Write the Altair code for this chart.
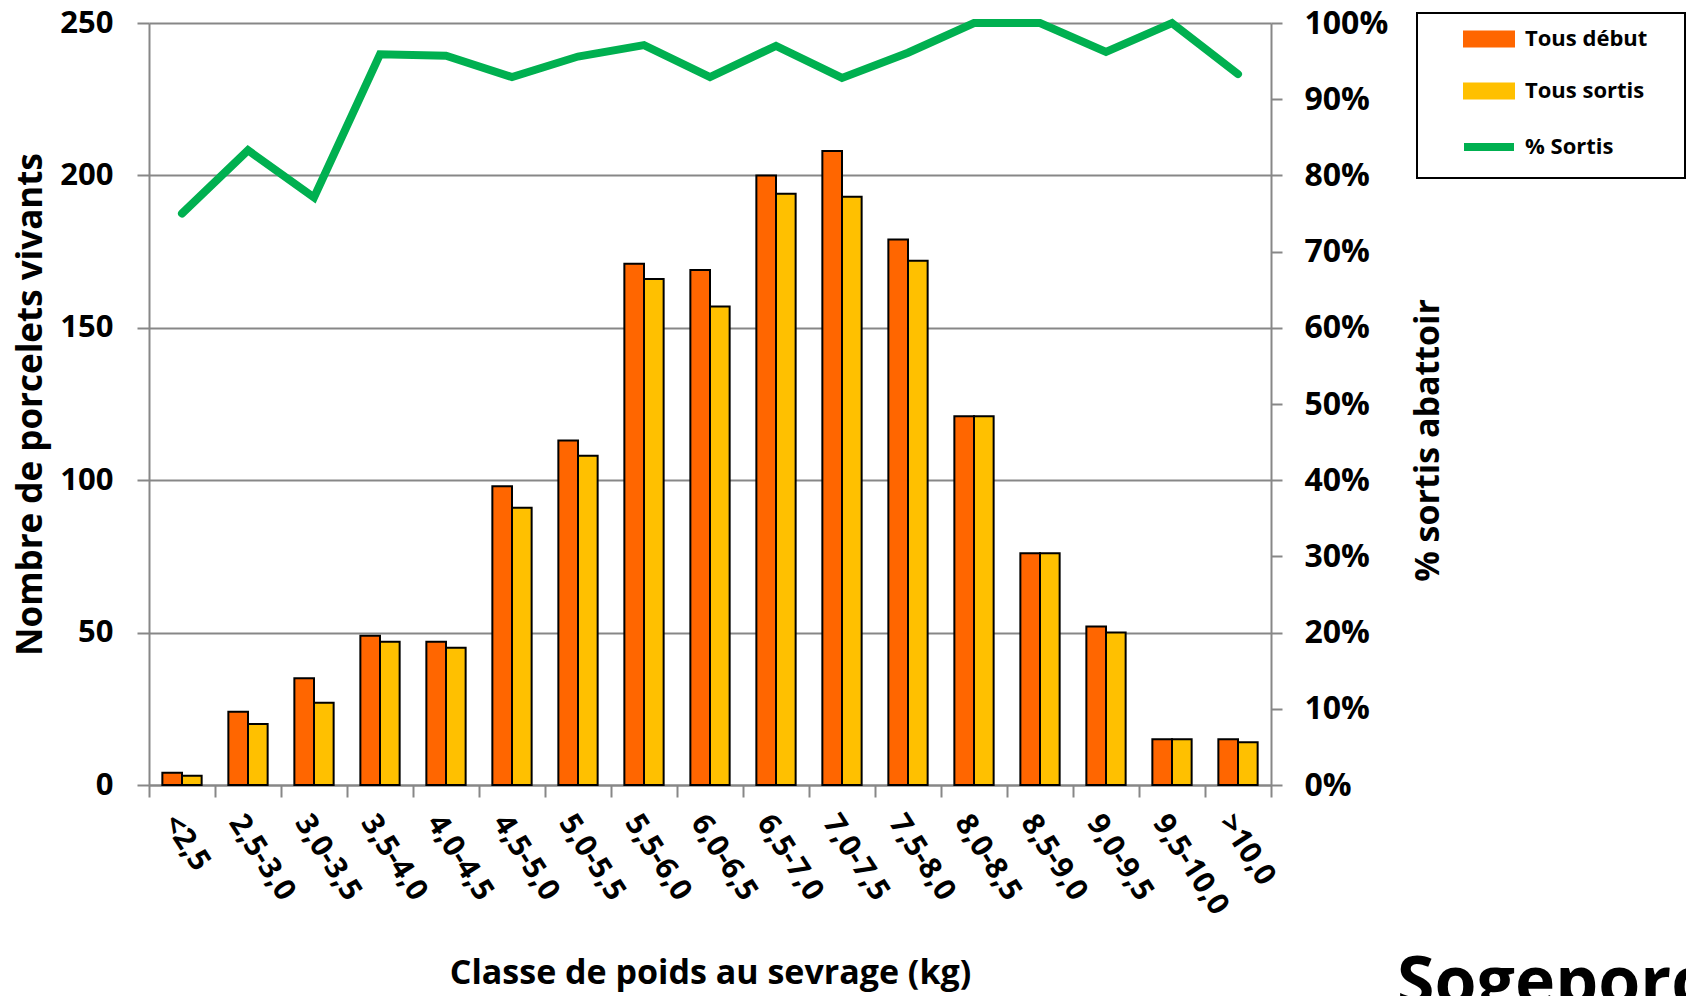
import altair as alt
import pandas as pd

categories = ["<2,5", "2,5-3,0", "3,0-3,5", "3,5-4,0", "4,0-4,5", "4,5-5,0", "5,0-5,5",
              "5,5-6,0", "6,0-6,5", "6,5-7,0", "7,0-7,5", "7,5-8,0", "8,0-8,5", "8,5-9,0",
              "9,0-9,5", "9,5-10,0", ">10,0"]
tous_debut = [4, 24, 35, 49, 47, 98, 113, 171, 169, 200, 208, 179, 121, 76, 52, 15, 15]
tous_sortis = [3, 20, 27, 47, 45, 91, 108, 166, 157, 194, 193, 172, 121, 76, 50, 15, 14]
pct_sortis = [75.0, 83.3, 77.1, 95.9, 95.7, 92.9, 95.6, 97.1, 92.9, 97.0, 92.8, 96.1,
              100.0, 100.0, 96.2, 100.0, 93.3]
series_names = ["Tous début", "Tous sortis", "% Sortis"]
series_colors = ["#FF6600", "#FFC000", "#00B050"]
left_ticks = [0, 50, 100, 150, 200, 250]
right_ticks = [0, 10, 20, 30, 40, 50, 60, 70, 80, 90, 100]

FONT = "Open Sans"
GRAY = "#878787"

bars_df = pd.DataFrame(
    [{"cat": c, "series": series_names[0], "n": v} for c, v in zip(categories, tous_debut)]
    + [{"cat": c, "series": series_names[1], "n": v} for c, v in zip(categories, tous_sortis)]
)
line_df = pd.DataFrame({"cat": categories, "pct": pct_sortis, "series": series_names[2]})
logo_df = pd.DataFrame({"name": ["Sogeporc"]})

W, H = 1122, 762

x_enc = alt.X(
    "cat:N", sort=categories,
    scale=alt.Scale(paddingInner=0, paddingOuter=0),
    axis=alt.Axis(
        title="Classe de poids au sevrage (kg)",
        titleFont=FONT, titleFontSize=34, titleFontWeight="bold", titleColor="black",
        titleX=561, titleY=198, titleAlign="center", titleBaseline="alphabetic",
        labelFont=FONT, labelFontSize=30, labelFontWeight="bold", labelColor="black",
        labelAngle=57, labelAlign="left", labelBaseline="top", labelPadding=12,
        tickBand="extent", tickSize=12, tickColor=GRAY, tickWidth=2,
        domainColor=GRAY, domainWidth=2, grid=False, labelOverlap=False,
    ),
)

is_line = "datum.value === '% Sortis'"
color_enc = alt.Color(
    "series:N",
    scale=alt.Scale(domain=series_names, range=series_colors),
    legend=alt.Legend(
        title="MM", titleOrient="right", titleOpacity=0, titleFontSize=12,
        titlePadding=0, titleFont=FONT,
        orient="none", legendX=1268, legendY=-10,
        fillColor="white", strokeColor="black",
        padding=15, rowPadding=28, symbolOffset=46, labelOffset=25,
        symbolSize=2500, labelLimit=400,
        symbolType=alt.ExprRef(expr=f"{is_line} ? 'M-1,0L1,0' : 'M-1,-0.3L1,-0.3L1,0.3L-1,0.3Z'"),
        symbolStrokeColor=alt.ExprRef(expr=f"{is_line} ? '#00B050' : '#000000'"),
        symbolStrokeWidth=alt.ExprRef(expr=f"{is_line} ? 8 : 2"),
        symbolOpacity=1,
        labelFont=FONT, labelFontSize=22, labelFontWeight="bold", labelColor="black",
    ),
)

bars = alt.Chart(bars_df).mark_bar(stroke="black", strokeWidth=2).encode(
    x=x_enc,
    xOffset=alt.XOffset("series:N", sort=series_names[:2],
                        scale=alt.Scale(paddingInner=0, paddingOuter=0.68)),
    y=alt.Y(
        "n:Q", scale=alt.Scale(domain=[0, 250], nice=False),
        axis=alt.Axis(
            values=left_ticks, title="Nombre de porcelets vivants",
            titleFont=FONT, titleFontSize=35, titleFontWeight="bold", titleColor="black",
            titleAngle=270, titleX=-108, titleY=381, titleAlign="center", titleBaseline="alphabetic",
            labelFont=FONT, labelFontSize=31, labelFontWeight="bold", labelColor="black",
            labelPadding=24, tickSize=12, tickColor=GRAY, tickWidth=2,
            domainColor=GRAY, domainWidth=2,
            grid=True, gridColor=GRAY, gridWidth=2,
        ),
    ),
    color=color_enc,
)

line = alt.Chart(line_df).mark_line(strokeWidth=8, strokeCap="round", strokeJoin="miter").encode(
    x=alt.X("cat:N", sort=categories),
    y=alt.Y(
        "pct:Q", scale=alt.Scale(domain=[0, 100], nice=False),
        axis=alt.Axis(
            orient="right", values=right_ticks, labelExpr="datum.value + '%'",
            title="% sortis abattoir",
            titleFont=FONT, titleFontSize=34, titleFontWeight="bold", titleColor="black",
            titleAngle=270, titleX=167, titleY=417, titleAlign="center", titleBaseline="alphabetic",
            labelFont=FONT, labelFontSize=32, labelFontWeight="bold", labelColor="black",
            labelPadding=22, tickSize=11, tickColor=GRAY, tickWidth=2,
            domainColor=GRAY, domainWidth=2, grid=False,
        ),
    ),
    color=alt.Color("series:N"),
)

logo = alt.Chart(logo_df).mark_text(
    font="Open Sans", fontSize=68, fontWeight="bold", align="left", baseline="alphabetic",
    color="black",
).encode(text="name:N", x=alt.value(1248), y=alt.value(982))

chart = alt.layer(bars, line, logo).resolve_scale(y="independent").properties(
    width=W, height=H,
    background="white",
    autosize=alt.AutoSizeParams(type="none"),
    padding={"left": 141, "top": 15, "right": 415, "bottom": 211},
).configure_view(stroke=None).configure_legend(
    strokeColor="black", strokeWidth=2
)

chart.save("out.html", embed_options={"renderer": "svg", "actions": False})
